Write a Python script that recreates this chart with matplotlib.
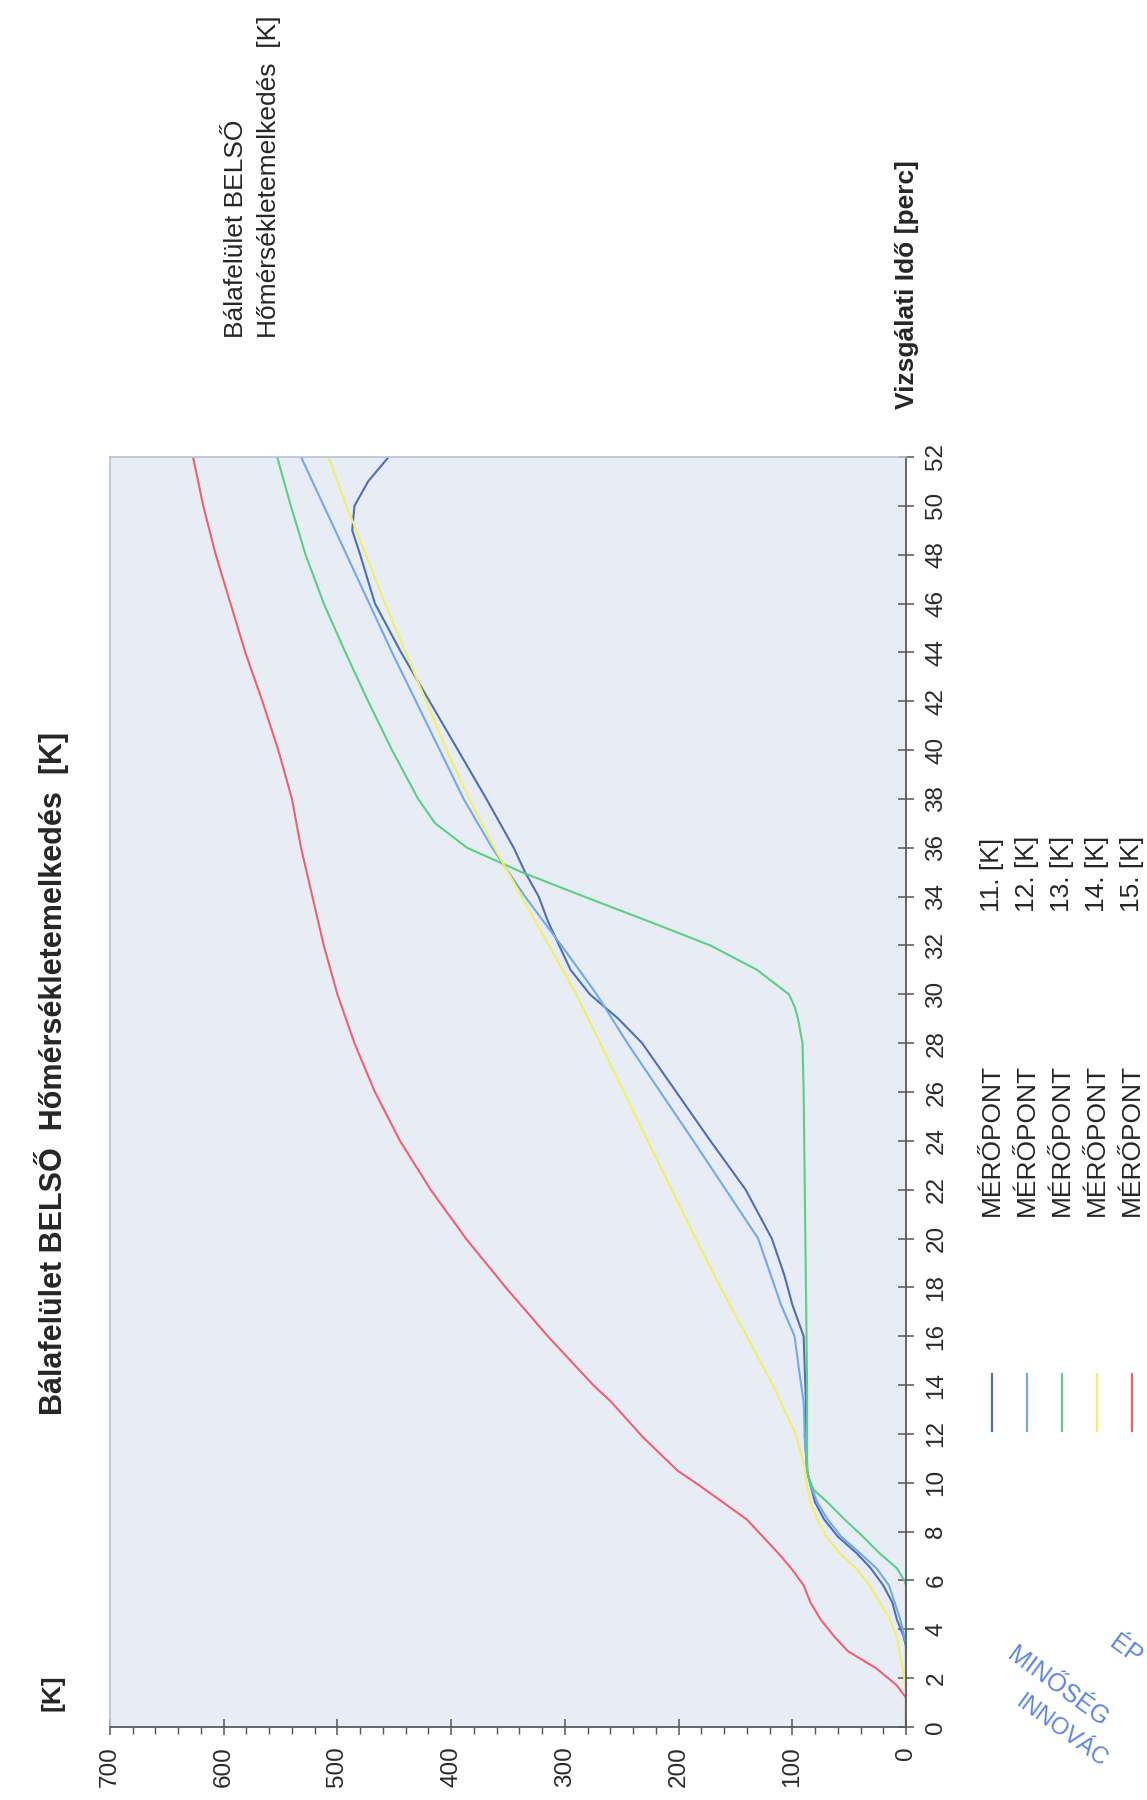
import matplotlib
matplotlib.use("Agg")
import matplotlib.pyplot as plt
from matplotlib.ticker import MultipleLocator

plt.rcParams["font.family"] = ["Liberation Sans", "DejaVu Sans"]

# ---- data: time [perc] and temperature rise [K] per measuring point ----
TIME_11 = [0, 3.3, 3.7, 4.4, 5.1, 5.8, 6.5, 7.1, 7.8, 8.5, 9.2, 9.9, 10.5, 11.2, 11.9,
           13.3, 14.6, 16, 17.3, 18.5, 20, 22, 24, 26, 28, 29, 30, 31, 32, 33, 34, 35,
           36, 38, 40, 42, 44, 46, 48, 49, 50, 51, 52]
TEMP_11 = [0, 0, 2, 8, 12, 20, 31, 43, 60, 72, 80, 84, 87, 88, 89,
           88, 89, 90, 100, 107, 118, 141, 172, 202, 232, 253, 278, 295, 305, 315, 323, 335,
           345, 369, 394, 419, 444, 467, 480, 487, 485, 473, 455]

TIME_12 = [0, 3.4, 3.7, 4.4, 5.1, 5.8, 6.5, 7.1, 7.8, 8.5, 9.2, 9.9, 10.5, 11.9, 13.3,
           14.6, 16, 17.3, 20, 24, 28, 30, 32, 34, 36, 38, 40, 42, 44, 46, 48, 50, 52]
TEMP_12 = [0, 0, 1.5, 5, 10, 15, 26, 40, 57, 69, 78, 84, 87, 89, 90,
           94, 98, 110, 130, 187, 245, 272, 303, 335, 364, 389, 410, 431, 452, 472, 492, 512, 532]

TIME_13 = [0, 5.8, 6.0, 6.5, 7.1, 7.8, 8.5, 9.2, 9.7, 10.3, 11, 14, 18, 22, 26, 28, 29,
           29.5, 30, 31, 32, 33, 34, 35, 36, 37, 38, 40, 42, 44, 46, 48, 50, 52]
TEMP_13 = [0, 0, 1.5, 8, 23, 38, 54, 69, 81, 86.5, 87, 87, 88, 89, 90, 91, 95,
           98, 103, 131, 172, 227, 283, 338, 386, 414, 429, 452, 473, 493, 512, 528, 541, 553]

TIME_14 = [0, 1.5, 2.4, 3.7, 4.4, 5.1, 5.8, 6.5, 7.1, 7.8, 8.5, 9.2, 9.9, 10.8, 12, 14,
           16, 18, 20, 22, 24, 26, 28, 30, 32, 34, 36, 38, 40, 42, 44, 46, 48, 50, 52]
TEMP_14 = [0, 0, 3, 8, 14, 23, 32, 44, 58, 70, 78, 84, 87, 90, 97, 117,
           140, 163, 185, 206, 227, 248, 269, 290, 314, 338, 362, 384, 404, 422, 440, 458, 475, 492, 508]

TIME_15 = [0, 1.2, 1.7, 2.4, 3.1, 3.7, 4.4, 5.1, 5.8, 6.5, 7.1, 7.8, 8.5, 9.2, 9.9, 10.5,
           11.9, 13.3, 14, 16, 18, 20, 22, 24, 26, 28, 30, 32, 34, 36, 38, 40, 42, 44, 46,
           48, 50, 52]
TEMP_15 = [0, 0, 8, 26, 51, 63, 75, 84, 90, 101, 112, 126, 140, 161, 182, 201,
           232, 259, 275, 315, 352, 387, 418, 445, 467, 485, 500, 512, 522, 532, 540, 552, 566, 581, 594,
           607, 618, 627]

SERIES_LABELS = ["11.", "12.", "13.", "14.", "15."]
SERIES_COLORS = ["#4d70b4", "#72a9ea", "#5ccf82", "#f2ee66", "#f25f6d"]

T_TICKS = [0, 100, 200, 300, 400, 500, 600, 700]
TIME_TICKS = list(range(0, 53, 2))

TITLE = "Bálafelület BELSŐ  Hőmérsékletemelkedés  [K]"
SUBTITLE = ["Bálafelület BELSŐ", "Hőmérsékletemelkedés  [K]"]
TIME_LABEL = "Vizsgálati Idő [perc]"
TEMP_LABEL = "[K]"

# ---- figure (page is rotated 90 degrees: time runs upward, K leftward) ----
W, H = 1147, 1800
fig = plt.figure(figsize=(W / 100, H / 100), dpi=100)
fig.patch.set_facecolor("white")


def fx(px):
    return px / W


def fy(py):
    return 1 - py / H


AX_L, AX_R, AX_T, AX_B = 110, 906, 457, 1727
ax = fig.add_axes([fx(AX_L), fy(AX_B), fx(AX_R - AX_L), (AX_B - AX_T) / H])
ax.set_facecolor("#e8edf5")

series = [(TIME_11, TEMP_11), (TIME_12, TEMP_12), (TIME_13, TEMP_13),
          (TIME_14, TEMP_14), (TIME_15, TEMP_15)]
for (tt, kk), col in zip(series, SERIES_COLORS):
    ax.plot(kk, tt, color=col, linewidth=1.5, solid_capstyle="round")

ax.set_xlim(700, 0)
ax.set_ylim(0, 52)
ax.set_xticks(T_TICKS)
ax.xaxis.set_minor_locator(MultipleLocator(20))
ax.set_yticks(TIME_TICKS)
ax.yaxis.tick_right()

ax.tick_params(axis="x", which="major", direction="inout", length=12, width=1.1,
               color="#555555", labelsize=17.5, labelcolor="#2a2a2a", pad=8,
               labelrotation=90)
ax.tick_params(axis="x", which="minor", direction="out", length=5, width=1.0,
               color="#555555")
ax.tick_params(axis="y", which="major", direction="inout", length=12, width=1.1,
               color="#555555", labelsize=17.5, labelcolor="#2a2a2a", pad=8,
               labelrotation=90, right=True, left=False)
for lab in ax.get_yticklabels():
    lab.set_va("center")

for side in ("bottom", "right"):
    ax.spines[side].set_color("#5a5a5a")
    ax.spines[side].set_linewidth(1.3)
for side in ("top", "left"):
    ax.spines[side].set_color("#b9c4d6")
    ax.spines[side].set_linewidth(1.2)

TXT = "#262626"

# main title and [K] on the left margin
fig.text(fx(52), fy(1073), TITLE, rotation=90, ha="center", va="center",
         fontsize=22, fontweight="bold", color=TXT)
fig.text(fx(52), fy(1693), TEMP_LABEL, rotation=90, ha="center", va="center",
         fontsize=19, fontweight="bold", color=TXT)

# two-line caption above the plot
for i, line in enumerate(SUBTITLE):
    fig.text(fx(236 + 33 * i), fy(338), line, rotation=90, rotation_mode="anchor",
             ha="left", va="center", fontsize=19, color=TXT)

# time axis label
fig.text(fx(907), fy(409), TIME_LABEL, rotation=90, rotation_mode="anchor",
         ha="left", va="center", fontsize=19, fontweight="bold", color=TXT)

# legend drawn as on the page
for i, (lab, col) in enumerate(zip(SERIES_LABELS, SERIES_COLORS)):
    x = fx(992 + 35 * i)
    fig.add_artist(plt.Line2D([x, x], [fy(1431), fy(1374)], color=col, linewidth=1.6))
    fig.text(x, fy(1216), "MÉRŐPONT", rotation=90, rotation_mode="anchor",
             ha="left", va="center", fontsize=19, color=TXT)
    fig.text(x, fy(912), lab + " [K]", rotation=90, rotation_mode="anchor",
             ha="left", va="center", fontsize=19, color=TXT)

# partial stamp in the corner (runs off the page edge)
STAMP = "#3f6fe0"
fig.text(fx(1112), fy(1640), "ÉP", rotation=-36, rotation_mode="anchor",
         ha="left", va="center", fontsize=18, color=STAMP, alpha=0.85)
fig.text(fx(1010), fy(1652), "MINŐSÉG", rotation=-36, rotation_mode="anchor",
         ha="left", va="center", fontsize=18, color=STAMP, alpha=0.85)
fig.text(fx(1018), fy(1700), "INNOVÁC", rotation=-36, rotation_mode="anchor",
         ha="left", va="center", fontsize=17, color=STAMP, alpha=0.85)

fig.savefig("out.png", dpi=100)
